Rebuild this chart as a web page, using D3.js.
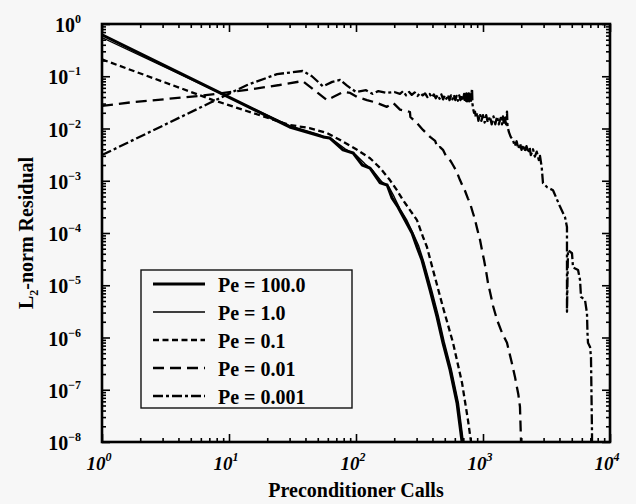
<!DOCTYPE html>
<html>
<head>
<meta charset="utf-8" />
<script src="https://d3js.org/d3.v7.min.js"></script>
<style>
  body { margin: 0; background: #f7f7f7; }
  svg { display: block; }
  text { font-family: "Liberation Serif", "Times New Roman", serif; font-weight: bold; fill: #000; }
</style>
<title>L2-norm Residual vs Preconditioner Calls</title>
</head>
<body>
<div id="chart"></div>
<script>
// values: [preconditioner calls, residual]
var pe100 = [[1,0.62],[30,0.0107],[55,0.0069],[62,0.0066],[79,0.0039],[95,0.0034],[112,0.0020],[129,0.00175],
  [155,9.1e-4],[176,8.3e-4],[192,4.7e-4],[214,3.15e-4],[243,1.77e-4],[276,1.0e-4],[302,5.4e-5],[331,3.0e-5],
  [383,8.1e-6],[434,2.5e-6],[484,7.9e-7],[550,2.4e-7],[624,5.6e-8],[684,1e-8]];

var pe1 = [[1,0.55],[30,0.0113],[50,0.0078],[65,0.0062],[82,0.0041],[100,0.0031],[118,0.0021],[135,0.0016],
  [160,9.5e-4],[182,7.6e-4],[200,4.9e-4],[222,2.9e-4],[250,1.8e-4],[285,9.2e-5],[312,5.6e-5],[342,2.8e-5],
  [395,8.0e-6],[445,2.6e-6],[495,8.2e-7],[562,2.5e-7],[640,5.6e-8],[700,1e-8]];

var pe01 = [[1,0.21],[7.5,0.035],[30,0.0117],[43,0.0102],[59,0.0082],[75,0.0060],[102,0.0039],[129,0.0027],
  [155,0.00175],[185,0.00103],[210,6.6e-4],[234,4.3e-4],[266,2.75e-4],[302,1.77e-4],[337,8.4e-5],[362,5.4e-5],
  [404,1.96e-5],[484,3.8e-6],[581,7.9e-7],[684,1.35e-7],[762,2.6e-8],[805,1e-8]];

var pe001 = [[1,0.027],[1.75,0.032],[5.9,0.042],[13.9,0.055],[25,0.068],[38,0.081],[43,0.064],[50,0.048],
  [59,0.035],[66,0.040],[79,0.050],[90,0.048],[102,0.040],[122,0.035],[146,0.031],[175,0.026],[196,0.031],
  [222,0.023],[252,0.0216],[266,0.0207],[268,0.0166],[302,0.0127],[337,0.0094],[383,0.0069],[420,0.0058],
  [440,0.0042],[459,0.0044],[484,0.0039],[510,0.0030],[530,0.0027],[555,0.0024],[580,0.0020],[620,0.0015],
  [659,0.00103],[690,8.0e-4],[720,6.5e-4],[760,4.6e-4],[790,3.75e-4],[830,2.5e-4],[860,1.9e-4],[900,1.2e-4],
  [947,7.4e-5],[985,4.5e-5],[1020,3.0e-5],[1060,1.8e-5],[1095,1.1e-5],[1150,6.5e-6],[1200,4.0e-6],
  [1288,2.2e-6],[1400,1.3e-6],[1545,7.9e-7],[1680,3.4e-7],[1786,1.75e-7],[1900,8.0e-8],[1955,4.7e-8],[1993,1e-8]];

var pe0001 = [[1,0.0031],[7.1,0.031],[13.9,0.068],[23.9,0.11],[38,0.126],[45,0.10],[55,0.064],[65,0.078],
  [75,0.085],[85,0.066],[100,0.050],[120,0.054],[135,0.046],[150,0.052],[175,0.048],[200,0.050],[222,0.046],
  [235,0.052],[248,0.043],[262,0.050],[275,0.044],[290,0.049],[305,0.042],[320,0.048],[335,0.043],[350,0.047],
  [365,0.040],[380,0.046],[395,0.039],[410,0.045],[425,0.038],[440,0.044],[455,0.037],[470,0.045],[485,0.036],
  [500,0.043],[515,0.037],[530,0.044],[545,0.035],[560,0.043],[575,0.036],[590,0.044],[605,0.035],[620,0.042],
  [635,0.034],[650,0.043],[665,0.035],[680,0.044],[695,0.034],[710,0.046],[718,0.033],[725,0.045],[733,0.034],
  [740,0.047],[748,0.033],[755,0.046],[763,0.034],[770,0.047],[778,0.033],[785,0.046],[793,0.035],[800,0.048],
  [806,0.034],[812,0.046],[820,0.058],[826,0.030],[835,0.024],[850,0.020],
  [865,0.021],[880,0.016],[900,0.020],[920,0.014],[947,0.019],[970,0.014],[1000,0.018],[1030,0.013],
  [1060,0.018],[1090,0.013],[1135,0.017],[1170,0.012],[1210,0.017],[1250,0.012],[1290,0.017],[1330,0.012],
  [1380,0.016],[1410,0.012],[1436,0.017],[1460,0.012],[1480,0.017],[1520,0.012],[1545,0.021],[1560,0.011],
  [1600,0.0085],[1650,0.0070],[1722,0.0060],[1780,0.0046],[1840,0.0057],[1900,0.0041],[1960,0.0052],
  [2010,0.0039],[2065,0.0049],[2130,0.0036],[2200,0.0046],[2280,0.0034],[2330,0.0044],[2380,0.0031],
  [2477,0.0040],[2560,0.0029],[2650,0.0036],[2750,0.0025],[2811,0.0030],[2900,0.0018],[2967,9.0e-4],
  [3200,7.5e-4],[3558,6.6e-4],[4039,3.2e-4],[4425,2.0e-4],
  [4584,1.3e-4],[4584,3.1e-6],[4669,4.7e-5],[5021,4.1e-5],[5113,2.2e-5],[5603,1.96e-5],[5807,1.26e-5],
  [5912,6.0e-6],[6358,5.2e-6],[6588,2.9e-6],[6650,1.2e-6],[6710,7.9e-7],[6964,6.6e-7],[7085,4.2e-7],
  [7216,1.5e-8],[7216,1e-8]];

var seriesNames = ['Pe = 100.0', 'Pe = 1.0', 'Pe = 0.1', 'Pe = 0.01', 'Pe = 0.001'];
var xDecades = [1, 10, 100, 1000, 10000];
var yDecades = [1e-8, 1e-7, 1e-6, 1e-5, 1e-4, 1e-3, 1e-2, 1e-1, 1];

var width = 636, height = 504;
var margin = { top: 24, right: 26, bottom: 62, left: 102 };

var svg = d3.select('#chart').append('svg')
  .attr('width', width)
  .attr('height', height);

var x = d3.scaleLog().domain([1, 1e4]).range([margin.left, width - margin.right]);
var y = d3.scaleLog().domain([1e-8, 1]).range([height - margin.bottom, margin.top]);

// line styles per series
var styles = [
  { w: 3, dash: null },
  { w: 1.4, dash: null },
  { w: 2.3, dash: '6,3.5' },
  { w: 2.3, dash: '11,6' },
  { w: 2.3, dash: '10,3,3,3' }
];
var series = [pe100, pe1, pe01, pe001, pe0001];

svg.append('clipPath').attr('id', 'clip')
  .append('rect')
  .attr('x', x(1)).attr('y', y(1))
  .attr('width', x(1e4) - x(1)).attr('height', y(1e-8) - y(1));

var line = d3.line()
  .x(function (d) { return x(d[0]); })
  .y(function (d) { return y(d[1]); });

svg.append('g').attr('clip-path', 'url(#clip)')
  .selectAll('path')
  .data(series)
  .join('path')
  .attr('d', line)
  .attr('fill', 'none')
  .attr('stroke', '#000')
  .attr('stroke-linejoin', 'round')
  .attr('stroke-width', function (d, i) { return styles[i].w; })
  .attr('stroke-dasharray', function (d, i) { return styles[i].dash; });

// ticks, inward on all four sides
var xMinor = x.ticks().filter(function (d) { return xDecades.indexOf(d) < 0; });
var yMinor = y.ticks().filter(function (d) { return yDecades.every(function (v) { return Math.abs(v - d) / v > 1e-6; }); });

function addAxis(gen, tr, values, size) {
  var g = svg.append('g')
    .attr('transform', tr)
    .call(gen.tickValues(values).tickSizeInner(-size).tickSizeOuter(0).tickFormat(''));
  g.select('.domain').remove();
  g.selectAll('line').attr('stroke', '#000').attr('stroke-width', 1.6);
}
var bottomT = 'translate(0,' + y(1e-8) + ')', topT = 'translate(0,' + y(1) + ')';
var leftT = 'translate(' + x(1) + ',0)', rightT = 'translate(' + x(1e4) + ',0)';
addAxis(d3.axisBottom(x), bottomT, xMinor, 4);
addAxis(d3.axisBottom(x), bottomT, xDecades, 8);
addAxis(d3.axisTop(x), topT, xMinor, 4);
addAxis(d3.axisTop(x), topT, xDecades, 8);
addAxis(d3.axisLeft(y), leftT, yMinor, 4);
addAxis(d3.axisLeft(y), leftT, yDecades, 8);
addAxis(d3.axisRight(y), rightT, yMinor, 4);
addAxis(d3.axisRight(y), rightT, yDecades, 8);

// frame
svg.append('rect')
  .attr('x', x(1)).attr('y', y(1))
  .attr('width', x(1e4) - x(1)).attr('height', y(1e-8) - y(1))
  .attr('fill', 'none').attr('stroke', '#000').attr('stroke-width', 2.6);

function expo(d) { return Math.round(Math.log10(d)); }
function supText(d) { var e = expo(d); return e < 0 ? '\u2212' + (-e) : '' + e; }

// y tick labels
var yl = svg.append('g').selectAll('text')
  .data(yDecades)
  .join('text')
  .attr('x', x(1) - 21)
  .attr('y', function (d) { return y(d) + 8; })
  .attr('text-anchor', 'end')
  .style('font-size', '20px');
yl.append('tspan').text('10');
yl.append('tspan').attr('dy', -9).style('font-size', '12px').text(supText);

// x tick labels
var xl = svg.append('g').selectAll('text')
  .data(xDecades)
  .join('text')
  .attr('x', function (d) { return x(d) - 3; })
  .attr('y', y(1e-8) + 28)
  .attr('text-anchor', 'middle')
  .style('font-size', '19px')
  .style('font-style', 'italic');
xl.append('tspan').text('10');
xl.append('tspan').attr('dy', -9).style('font-size', '12px').text(supText);

// axis titles
svg.append('text')
  .attr('x', (x(1) + x(1e4)) / 2)
  .attr('y', 497)
  .attr('text-anchor', 'middle')
  .style('font-size', '20px')
  .text('Preconditioner Calls');

var yt = svg.append('text')
  .attr('transform', 'translate(33,' + (y(1e-8) + y(1)) / 2 + ') rotate(-90)')
  .attr('text-anchor', 'middle')
  .style('font-size', '20px');
yt.append('tspan').text('L');
yt.append('tspan').attr('dy', 5).style('font-size', '12px').text('2');
yt.append('tspan').attr('dy', -5).text('-norm Residual');

// legend
var legend = svg.append('g').attr('transform', 'translate(141,270)');
legend.append('rect')
  .attr('width', 211).attr('height', 138)
  .attr('fill', '#f7f7f7').attr('stroke', '#111').attr('stroke-width', 1.4);
var rows = legend.selectAll('g.row')
  .data(seriesNames)
  .join('g')
  .attr('class', 'row')
  .attr('transform', function (d, i) { return 'translate(0,' + (14 + i * 28) + ')'; });
rows.append('line')
  .attr('x1', 12).attr('x2', 64)
  .attr('stroke', '#000')
  .attr('stroke-width', function (d, i) { return styles[i].w; })
  .attr('stroke-dasharray', function (d, i) { return styles[i].dash; });
rows.append('text')
  .attr('x', 77).attr('y', 8)
  .style('font-size', '20px')
  .text(function (d) { return d; });
</script>
</body>
</html>
